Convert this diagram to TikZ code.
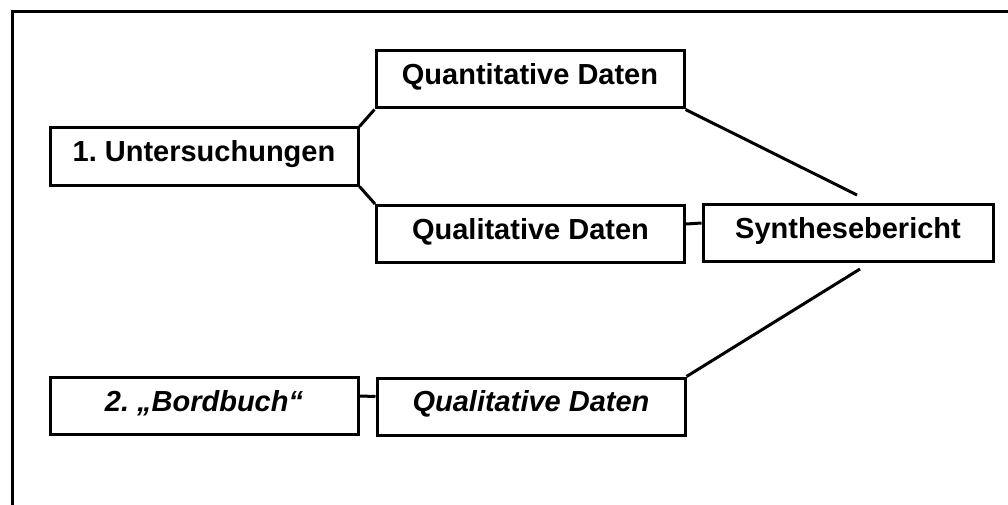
\documentclass[tikz,border=0pt]{standalone}
\usepackage{fontspec}
\setmainfont{Liberation Sans}
\usepackage{tikz}
\frenchspacing

\begin{document}
\begin{tikzpicture}[x = 1pt, y = -1pt,
        line width = 3pt,
        kasten/.style = {draw, rectangle, minimum width = 308pt, minimum height = 57pt,
            font = \fontsize{29}{34}\selectfont\bfseries, text height = 19pt, text depth = 9pt}]
        \useasboundingbox (0,0) rectangle (1008,505);
        \draw (12,505) -- (12,12) -- (1008,12);
        
        \node[kasten] (unters) at (204,156.5) {1. Untersuchungen};
        \node[kasten] (quanti) at (530,79.5) {Quantitative Daten};
        \node[kasten] (quali) at (530.5,234) {Qualitative Daten};
        \node[kasten, minimum width = 290pt] (synth) at (848,233) {Synthesebericht};
        
        \node[kasten, font = \fontsize{29}{34}\selectfont\bfseries\itshape] (bord) at (204,406) {2. „Bordbuch“};
        \node[kasten, font = \fontsize{29}{34}\selectfont\bfseries\itshape] (qualib) at (531,406.5) {Qualitative Daten};
        
        \coordinate (qende) at (857,195);
        \coordinate (bende) at (860,269);
        
        \draw (unters.north east) -- (quanti.south west);
        \draw (unters.south east) -- (quali.north west);
        \draw ([yshift = 10pt]quali.east) -- ([yshift = 10pt]synth.west);
        \draw (quanti.south east) -- (qende);
        \draw (qualib.north east) -- (bende);
        \draw ([yshift = 10pt]bord.east) -- ([yshift = 10pt]qualib.west);
    \end{tikzpicture}
\end{document}
